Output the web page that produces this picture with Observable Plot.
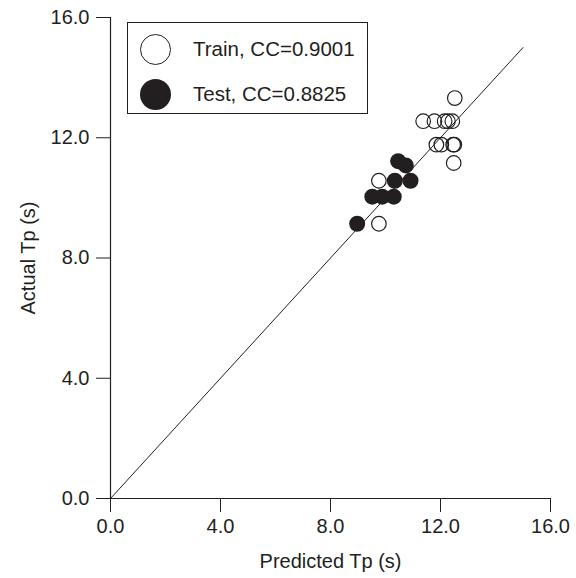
<!DOCTYPE html>
<html>
<head>
<meta charset="utf-8">
<script src="https://cdn.jsdelivr.net/npm/d3@7"></script>
<script src="https://cdn.jsdelivr.net/npm/@observablehq/plot@0.6"></script>
<style>
  html, body { margin: 0; padding: 0; background: #fff; }
  #wrap { position: relative; width: 576px; height: 578px; font-family: "Liberation Sans", Arial, sans-serif; }
  #legend { position: absolute; left: 127px; top: 22px; width: 241px; height: 92px; border: 1px solid #231f20; box-sizing: border-box; background: #fff; }
  .row { position: absolute; left: 0; height: 32px; display: flex; align-items: center; font-size: 20.5px; color: #231f20; }
  .sw { width: 31px; height: 31px; border-radius: 50%; box-sizing: border-box; margin-left: 12px; margin-right: 22px; }
</style>
</head>
<body>
<div id="wrap"></div>
<script>
// Data
const trainPred   = [12.52, 11.37, 11.78, 12.15, 12.27, 12.43, 11.85, 12.03, 12.46, 12.50, 12.48, 9.76, 9.76];
const trainActual = [13.32, 12.55, 12.55, 12.55, 12.55, 12.55, 11.77, 11.77, 11.77, 11.77, 11.16, 10.57, 9.14];
const testPred    = [10.46, 10.74, 10.34, 10.91, 9.52, 9.88, 10.30, 8.97];
const testActual  = [11.22, 11.08, 10.57, 10.57, 10.04, 10.04, 10.04, 9.14];
const lineEnds    = [0, 15];
const ticks       = [0, 4, 8, 12, 16];
const legendItems = ["Train, CC=0.9001", "Test, CC=0.8825"];

const train = trainPred.map((p, i) => ({pred: p, actual: trainActual[i]}));
const test  = testPred.map((p, i) => ({pred: p, actual: testActual[i]}));
const diag  = lineEnds.map(v => ({pred: v, actual: v}));

const ink = "#231f20";
const fmt = d => d.toFixed(1);

const chart = Plot.plot({
  width: 576,
  height: 578,
  marginLeft: 110,
  marginRight: 26,
  marginTop: 17,
  marginBottom: 80,
  style: {fontFamily: '"Liberation Sans", Arial, sans-serif', fontSize: "20px", color: ink, background: "#fff"},
  x: {domain: [0, 16]},
  y: {domain: [0, 16]},
  marks: [
    Plot.axisX({ticks, tickFormat: fmt, tickSize: 14, tickPadding: 6, fontSize: 20,
      label: "Predicted Tp (s)", labelAnchor: "center", labelArrow: "none", labelOffset: 69}),
    Plot.axisY({ticks, tickFormat: fmt, tickSize: 14, tickPadding: 7, fontSize: 20,
      label: "Actual Tp (s)", labelAnchor: "center", labelArrow: "none", labelOffset: 90}),
    Plot.ruleY([0], {stroke: ink, strokeWidth: 1.2}),
    Plot.ruleX([0], {stroke: ink, strokeWidth: 1.2}),
    Plot.line(diag, {x: "pred", y: "actual", stroke: ink, strokeWidth: 1}),
    Plot.dot(test, {x: "pred", y: "actual", r: 8, fill: ink, stroke: "none"}),
    Plot.dot(train, {x: "pred", y: "actual", r: 7.3, fill: "none", stroke: ink, strokeWidth: 1.2})
  ]
});

const wrap = document.getElementById("wrap");
wrap.appendChild(chart);

const legend = document.createElement("div");
legend.id = "legend";
legendItems.forEach((label, i) => {
  const row = document.createElement("div");
  row.className = "row";
  row.style.top = (i === 0 ? 10 : 55) + "px";
  const sw = document.createElement("div");
  sw.className = "sw";
  if (i === 0) { sw.style.border = "1.3px solid " + ink; sw.style.background = "#fff"; }
  else { sw.style.background = ink; }
  const t = document.createElement("span");
  t.textContent = label;
  row.appendChild(sw);
  row.appendChild(t);
  legend.appendChild(row);
});
wrap.appendChild(legend);
</script>
</body>
</html>
